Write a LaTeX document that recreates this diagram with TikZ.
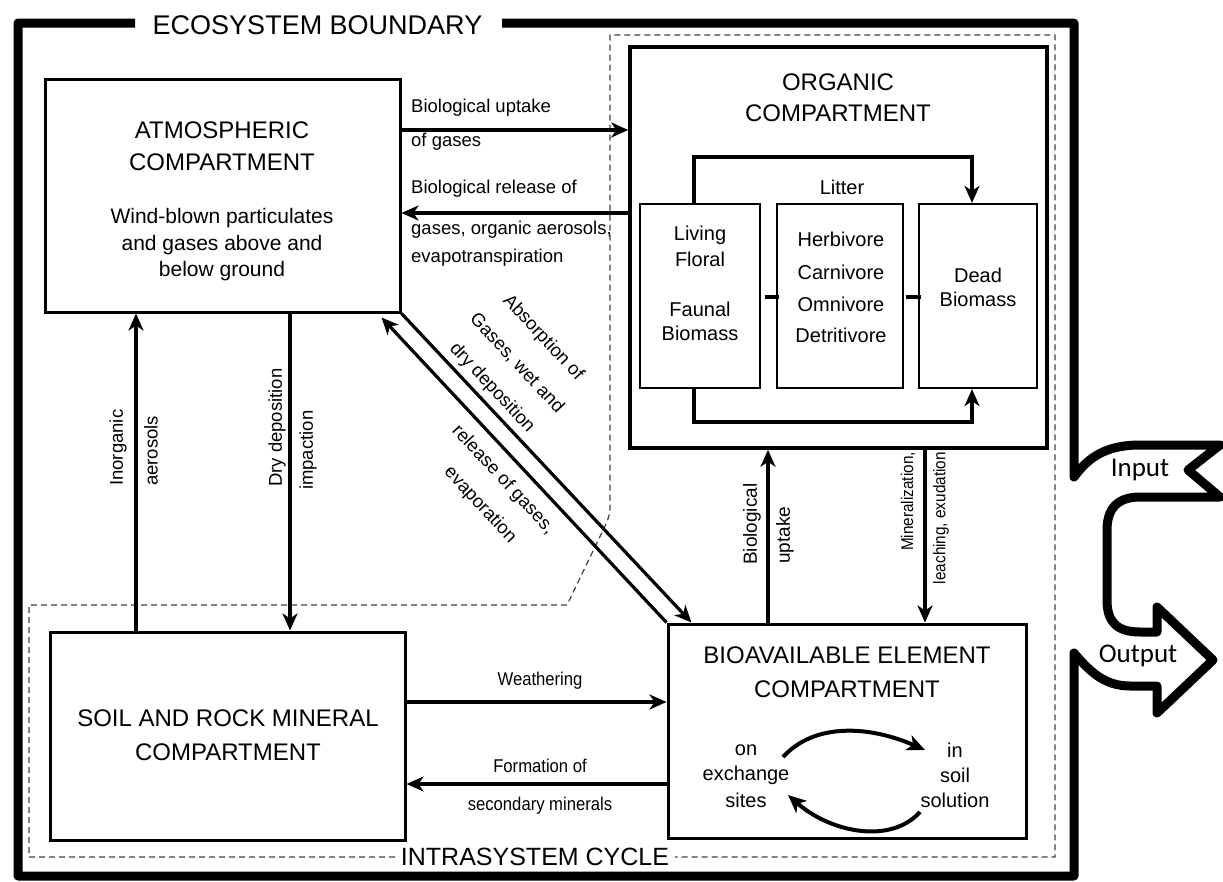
\documentclass[tikz,border=0pt]{standalone}
\usepackage{fontspec}
\setmainfont{Liberation Sans}
\newfontfamily\narrowfont[FakeStretch=0.9]{Liberation Sans}
\newfontfamily\calfont{Carlito}
\usetikzlibrary{arrows.meta}
\begin{document}
\begin{tikzpicture}[x=1pt,y=-1pt,
  box/.style={draw, line width=3pt, inner sep=0pt, fill=white},
  ibox/.style={draw, line width=2.2pt, inner sep=0pt, minimum width=120pt, minimum height=184pt},
  ttl/.style={font=\fontsize{24}{28}\selectfont, inner sep=0pt},
  txt/.style={font=\fontsize{21}{25}\selectfont, inner sep=0pt},
  itxt/.style={font=\fontsize{20}{24}\selectfont, inner sep=0pt},
  lbl/.style={font=\fontsize{18.5}{22}\selectfont, inner sep=0pt},
  vlbl/.style={font=\fontsize{19}{22}\selectfont, inner sep=0pt},
  nlbl/.style={font=\narrowfont\fontsize{18.5}{22}\selectfont, inner sep=0pt},
  slbl/.style={font=\narrowfont\fontsize{17}{20}\selectfont, inner sep=0pt},
  big/.style={font=\fontsize{27}{30}\selectfont, inner sep=0pt},
  arr/.style={line width=3.2pt, -{Stealth[length=17pt,width=15pt,inset=5pt]}},
  carr/.style={line width=4pt, -{Stealth[length=18pt,width=16pt,inset=5pt]}},
  lit/.style={line width=3.5pt, -{Stealth[length=17pt,width=15pt,inset=5pt]}},
  stub/.style={line width=3.5pt},
  bound/.style={line width=9pt, line join=round},
  cyc/.style={line width=1.2pt, dash pattern=on 6pt off 4pt, black!75}
]
\useasboundingbox (0,0) rectangle (1223,881);

% intrasystem cycle (dashed)
\draw[cyc] (395,857) -- (29,857) -- (29,605) -- (567,605) -- (607,522) -- (610,512) -- (610,35) -- (1055,35) -- (1055,857) -- (675,857);
\node[big, font=\fontsize{25}{28}\selectfont] (cyclbl) at (535,857) {INTRASYSTEM CYCLE};

% ecosystem boundary
\draw[bound] (135,23) -- (18,23) -- (18,876) -- (1074,876) -- (1074,653)
  .. controls (1090,672) and (1105,686) .. (1130,686) -- (1157,686) -- (1157,713)
  -- (1213,660) -- (1157,607) -- (1157,632) -- (1140,632)
  .. controls (1115,632) and (1107,620) .. (1107,600) -- (1107,530)
  .. controls (1107,508) and (1118,497) .. (1140,497) -- (1220,497) -- (1188,470)
  -- (1220,445) -- (1140,445) .. controls (1105,445) and (1088,458) .. (1074,477)
  -- (1074,23) -- (502,23);
\node[big] (ecolbl) at (317.5,25) {ECOSYSTEM BOUNDARY};
\node[font=\calfont\fontsize{27}{30}\selectfont, inner sep=0pt] (inlbl) at (1140,470) {Input};
\node[font=\calfont\fontsize{27}{30}\selectfont, inner sep=0pt] (outlbl) at (1138,656) {Output};

% boxes
\node[box, minimum width=355pt, minimum height=233pt] (atm) at (222.5,195.5) {};
\node[box, line width=3.5pt, minimum width=417pt, minimum height=401pt] (org) at (838.5,247.5) {};
\node[box, minimum width=355pt, minimum height=208pt] (soil) at (227.5,736) {};
\node[box, minimum width=358pt, minimum height=214pt] (bio) at (847,731) {};

\node[ibox] (liv) at (700,296) {};
\node[ibox, minimum width=126pt] (herb) at (840,296) {};
\node[ibox, minimum width=118pt] (dead) at (978,296) {};

% texts in boxes
\node[ttl] (atm1) at (222,130) {ATMOSPHERIC};
\node[ttl] (atm2) at (222,162) {COMPARTMENT};
\node[txt] (atm3) at (222,218) {Wind-blown particulates};
\node[txt] (atm4) at (222,245) {and gases above and};
\node[txt] (atm5) at (222,271) {below ground};

\node[ttl] (org1) at (838,82) {ORGANIC};
\node[ttl] (org2) at (838,113) {COMPARTMENT};

\node[ttl] (soil1) at (228,718) {SOIL AND ROCK MINERAL};
\node[ttl] (soil2) at (228,752) {COMPARTMENT};

\node[ttl] (bio1) at (847,655) {BIOAVAILABLE ELEMENT};
\node[ttl] (bio2) at (847,689) {COMPARTMENT};

\node[itxt] (liv1) at (700,235) {Living};
\node[itxt] (liv2) at (700,259) {Floral};
\node[itxt] (liv3) at (700,309) {Faunal};
\node[itxt] (liv4) at (700,333) {Biomass};

\node[itxt] (herb1) at (841,239) {Herbivore};
\node[itxt] (herb2) at (841,272) {Carnivore};
\node[itxt] (herb3) at (841,304) {Omnivore};
\node[itxt] (herb4) at (841,335) {Detritivore};

\node[itxt] (dead1) at (978,275) {Dead};
\node[itxt] (dead2) at (978,299) {Biomass};

\node[itxt] (litlbl) at (842,187) {Litter};

\node[itxt] (on1) at (746,750) {on};
\node[itxt] (on2) at (746,775) {exchange};
\node[itxt] (on3) at (746,800) {sites};
\node[itxt] (in1) at (955,750) {in};
\node[itxt] (in2) at (955,775) {soil};
\node[itxt] (in3) at (955,800) {solution};

% organic internal links
\draw[lit] (liv.north -| 694,0) |- (972,157) -- (dead.north -| 972,0);
\draw[lit] (liv.south -| 694,0) |- (972,422) -- (dead.south -| 972,0);
\draw[stub] (liv.east |- 0,297) ++(4,0) -- ([xshift=3pt]herb.west |- 0,297);
\draw[stub] (herb.east |- 0,297) ++(2,0) -- ([xshift=3pt]dead.west |- 0,297);

% exchange cycle
\coordinate (c1a) at (783,757);
\coordinate (c1b) at (925,750);
\coordinate (c2a) at (920,812);
\coordinate (c2b) at (788,795);
\draw[carr] (c1a) .. controls (815,722) and (870,726) .. (c1b);
\draw[carr] (c2a) .. controls (890,845) and (830,832) .. (c2b);

% main arrows
\draw[arr] (atm.east |- 0,130) -- (org.west |- 0,130);
\draw[arr] (org.west |- 0,213) -- (atm.east |- 0,213);
\draw[arr] (soil.north -| 136,0) -- (atm.south -| 136,0);
\draw[arr] (atm.south -| 290,0) -- (soil.north -| 290,0);
\draw[arr] (atm.south east) -- ([xshift=25pt]bio.north west);
\draw[arr] (bio.north west) -- ([xshift=-20pt,yshift=-4pt]atm.south east);
\draw[arr] (bio.north -| 768,0) -- (org.south -| 768,0);
\draw[arr] (org.south -| 925,0) -- (bio.north -| 925,0);
\draw[arr] (soil.east |- 0,702) -- (bio.west |- 0,702);
\draw[arr] (bio.west |- 0,784) -- (soil.east |- 0,784);

% arrow labels
\node[lbl, anchor=west] (l1a) at (411,108) {Biological uptake};
\node[lbl, anchor=west] (l1b) at (411,142) {of gases};
\node[lbl, anchor=west] (l2a) at (411,189) {Biological release of};
\node[lbl, anchor=west] (l2b) at (411,230) {gases, organic aerosols,};
\node[lbl, anchor=west] (l2c) at (411,258) {evapotranspiration};

\node[lbl, rotate=90, anchor=west] (l3a) at (118,486) {Inorganic};
\node[lbl, rotate=90, anchor=west] (l3b) at (151,486) {aerosols};
\node[lbl, rotate=90, anchor=west] (l4a) at (277,487) {Dry deposition};
\node[lbl, rotate=90, anchor=west] (l4b) at (308,490) {impaction};

\node[lbl, rotate=-47] (l5a) at (543,338) {Absorption of};
\node[lbl, rotate=-47] (l5b) at (517,363) {Gases, wet and};
\node[lbl, rotate=-47] (l5c) at (492,388) {dry deposition};
\node[lbl, rotate=-47] (l6a) at (503,480) {release of gases,};
\node[lbl, rotate=-47] (l6b) at (480,505) {evaporation};

\node[vlbl, rotate=90, anchor=west] (l7a) at (752,565) {Biological};
\node[vlbl, rotate=90, anchor=west] (l7b) at (785,564) {uptake};
\node[slbl, rotate=90, anchor=east] (l8a) at (908,452) {Mineralization,};
\node[slbl, rotate=90, anchor=east] (l8b) at (941,452) {leaching, exudation};

\node[nlbl] (l9) at (540,681) {Weathering};
\node[nlbl] (l10a) at (540,766) {Formation of};
\node[nlbl] (l10b) at (540,806) {secondary minerals};
\end{tikzpicture}
\end{document}
